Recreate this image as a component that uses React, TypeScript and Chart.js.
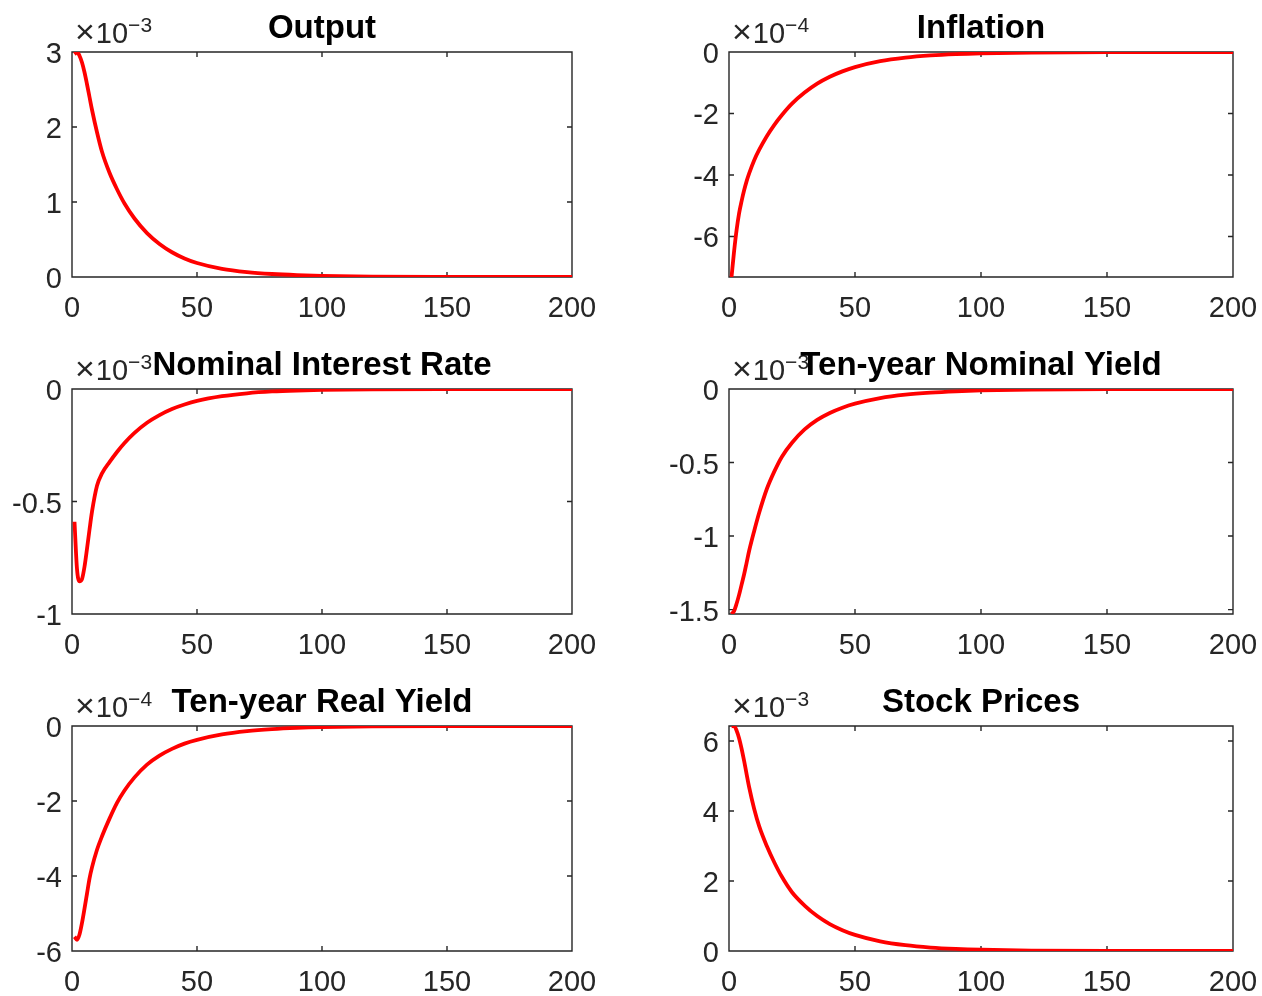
import React, { useEffect, useRef } from "react";
import { Chart, registerables } from "chart.js";

Chart.register(...registerables);

// ---------------- data ----------------
const periods = [1, 2, 3, 4, 5, 6, 7, 8, 10, 12, 15, 18, 21, 25, 30, 35, 40, 45, 50, 60, 70, 80, 90, 100, 120, 150, 200];

// Output (x 1e-3)
const outputVals = [2.97, 3.0, 2.95, 2.86, 2.73, 2.57, 2.4, 2.23, 1.93, 1.67, 1.39, 1.17, 0.98, 0.78, 0.585, 0.44, 0.33, 0.247, 0.186, 0.108, 0.065, 0.04, 0.025, 0.016, 0.006, 0.0015, 0];
// Inflation (x 1e-4)
const inflationVals = [-7.32, -6.5, -5.8, -5.25, -4.85, -4.5, -4.2, -3.95, -3.52, -3.18, -2.74, -2.37, -2.05, -1.68, -1.32, -1.03, -0.806, -0.63, -0.493, -0.3, -0.185, -0.113, -0.069, -0.042, -0.016, -0.0037, 0];
// Nominal Interest Rate (x 1e-3)
const nominalRateVals = [-0.59, -0.8, -0.855, -0.845, -0.79, -0.71, -0.625, -0.545, -0.43, -0.375, -0.325, -0.28, -0.24, -0.195, -0.15, -0.116, -0.089, -0.069, -0.053, -0.032, -0.019, -0.011, -0.0066, -0.004, -0.0014, -0.0003, 0];
// Ten-year Nominal Yield (x 1e-3)
const nominalYieldVals = [-1.53, -1.51, -1.46, -1.4, -1.33, -1.26, -1.18, -1.1, -0.965, -0.84, -0.68, -0.56, -0.46, -0.365, -0.275, -0.21, -0.163, -0.127, -0.1, -0.062, -0.039, -0.025, -0.016, -0.01, -0.004, -0.001, 0];
// Ten-year Real Yield (x 1e-4)
const realYieldVals = [-5.62, -5.7, -5.56, -5.25, -4.87, -4.47, -4.07, -3.77, -3.3, -2.94, -2.47, -2.05, -1.72, -1.37, -1.03, -0.79, -0.61, -0.47, -0.37, -0.225, -0.138, -0.085, -0.052, -0.032, -0.012, -0.003, 0];
// Stock Prices (x 1e-3)
const stockVals = [6.42, 6.43, 6.3, 6.08, 5.78, 5.43, 5.05, 4.68, 4.06, 3.56, 3.0, 2.53, 2.12, 1.68, 1.3, 1.0, 0.77, 0.595, 0.46, 0.275, 0.165, 0.099, 0.06, 0.036, 0.013, 0.003, 0];

const seriesList = [outputVals, inflationVals, nominalRateVals, nominalYieldVals, realYieldVals, stockVals];
const panelTitles = ["Output", "Inflation", "Nominal Interest Rate", "Ten-year Nominal Yield", "Ten-year Real Yield", "Stock Prices"];
const exponentLabels = ["\u22123", "\u22124", "\u22123", "\u22123", "\u22124", "\u22123"];
const yMins = [0, -7.32, -1, -1.53, -6, 0];
const yMaxs = [3, 0, 0, 0, 0, 6.43];
const yTickValues = [
  [0, 1, 2, 3],
  [-6, -4, -2, 0],
  [-1, -0.5, 0],
  [-1.5, -1, -0.5, 0],
  [-6, -4, -2, 0],
  [0, 2, 4, 6],
];
const yTickLabels = [
  ["0", "1", "2", "3"],
  ["-6", "-4", "-2", "0"],
  ["-1", "-0.5", "0"],
  ["-1.5", "-1", "-0.5", "0"],
  ["-6", "-4", "-2", "0"],
  ["0", "2", "4", "6"],
];
const xTickValues = [0, 50, 100, 150, 200];
const xTickLabels = ["0", "50", "100", "150", "200"];

// ---------------- layout / style ----------------
const W = 1262;
const H = 996;
const colLeft = [72, 729];
const colRight = [572, 1233];
const rowTop = [52, 389, 726];
const rowBottom = [277, 614, 951];
const Y_W = 60;
const X_H = 40;
const FONT = '"Liberation Sans", Arial, Helvetica, sans-serif';
const AXIS_COLOR = "#262626";
const TICK_LEN = 5;

function Panel({ idx }: { idx: number }) {
  const ref = useRef<HTMLCanvasElement | null>(null);

  useEffect(() => {
    const col = idx % 2;
    const row = Math.floor(idx / 2);
    const left = colLeft[col];
    const right = colRight[col];
    const top = rowTop[row];
    const bottom = rowBottom[row];
    const vals = seriesList[idx];

    const axesPlugin = {
      id: "matlabAxes" + idx,
      beforeDatasetsDraw(chart: any) {
        const { ctx, chartArea: a, scales } = chart;
        const xs = scales.x;
        const ys = scales.y;
        ctx.save();
        ctx.strokeStyle = AXIS_COLOR;
        ctx.lineWidth = 1.4;
        ctx.beginPath();
        ctx.rect(a.left, a.top, a.right - a.left, a.bottom - a.top);
        xs.ticks.forEach((t: any) => {
          const px = xs.getPixelForValue(t.value);
          ctx.moveTo(px, a.bottom);
          ctx.lineTo(px, a.bottom - TICK_LEN);
          ctx.moveTo(px, a.top);
          ctx.lineTo(px, a.top + TICK_LEN);
        });
        ys.ticks.forEach((t: any) => {
          const py = ys.getPixelForValue(t.value);
          ctx.moveTo(a.left, py);
          ctx.lineTo(a.left + TICK_LEN, py);
          ctx.moveTo(a.right, py);
          ctx.lineTo(a.right - TICK_LEN, py);
        });
        ctx.stroke();
        ctx.restore();
      },
      afterDraw(chart: any) {
        const { ctx, chartArea: a } = chart;
        ctx.save();
        // exponent label  (x10^-n)
        ctx.fillStyle = AXIS_COLOR;
        ctx.textAlign = "left";
        ctx.textBaseline = "alphabetic";
        ctx.font = `34px ${FONT}`;
        const times = "\u00d7";
        ctx.fillText(times, a.left + 3, a.top - 9);
        let xpos = a.left + 3 + ctx.measureText(times).width + 1;
        ctx.font = `29px ${FONT}`;
        ctx.fillText("10", xpos, a.top - 9);
        xpos += ctx.measureText("10").width;
        ctx.font = `21px ${FONT}`;
        ctx.fillText(exponentLabels[idx], xpos, a.top - 20);
        // title
        ctx.fillStyle = "#000000";
        ctx.textAlign = "center";
        ctx.font = `bold 33px ${FONT}`;
        ctx.fillText(panelTitles[idx], (a.left + a.right) / 2, a.top - 14);
        ctx.restore();
      },
    };

    const chart = new Chart(ref.current as HTMLCanvasElement, {
      type: "line",
      data: {
        datasets: [
          {
            data: periods.map((p, i) => ({ x: p, y: vals[i] })),
            borderColor: "#ff0000",
            borderWidth: 3.8,
            pointRadius: 0,
            fill: false,
            cubicInterpolationMode: "monotone",
          },
        ],
      },
      options: {
        animation: false,
        responsive: false,
        devicePixelRatio: 1,
        events: [],
        layout: {
          padding: {
            left: left - Y_W,
            top: top,
            right: W - right,
            bottom: H - bottom - X_H,
          },
        },
        plugins: {
          legend: { display: false },
          tooltip: { enabled: false },
          title: { display: false },
        },
        scales: {
          x: {
            type: "linear",
            min: 0,
            max: 200,
            afterBuildTicks: (s: any) => {
              s.ticks = xTickValues.map((v) => ({ value: v }));
            },
            afterFit: (s: any) => {
              s.height = X_H;
              s.paddingLeft = 0;
              s.paddingRight = 0;
            },
            grid: { display: false, drawTicks: false },
            border: { display: false },
            ticks: {
              autoSkip: false,
              maxRotation: 0,
              padding: 15,
              color: AXIS_COLOR,
              font: { family: FONT, size: 29 },
              callback: (_v: any, i: number) => xTickLabels[i],
            },
          },
          y: {
            type: "linear",
            min: yMins[idx],
            max: yMaxs[idx],
            afterBuildTicks: (s: any) => {
              s.ticks = yTickValues[idx].map((v) => ({ value: v }));
            },
            afterFit: (s: any) => {
              s.width = Y_W;
              s.paddingTop = 0;
              s.paddingBottom = 0;
            },
            grid: { display: false, drawTicks: false },
            border: { display: false },
            ticks: {
              autoSkip: false,
              padding: 10,
              labelOffset: 3,
              color: AXIS_COLOR,
              font: { family: FONT, size: 29 },
              callback: (_v: any, i: number) => yTickLabels[idx][i],
            },
          },
        },
      },
      plugins: [axesPlugin],
    } as any);

    return () => chart.destroy();
  }, [idx]);

  return (
    <canvas
      ref={ref}
      width={W}
      height={H}
      style={{ position: "absolute", left: 0, top: 0, width: W, height: H }}
    />
  );
}

export default function App() {
  return (
    <div style={{ position: "absolute", left: 0, top: 0, width: W, height: H, background: "#ffffff", overflow: "hidden" }}>
      {[0, 1, 2, 3, 4, 5].map((i) => (
        <Panel key={i} idx={i} />
      ))}
    </div>
  );
}
